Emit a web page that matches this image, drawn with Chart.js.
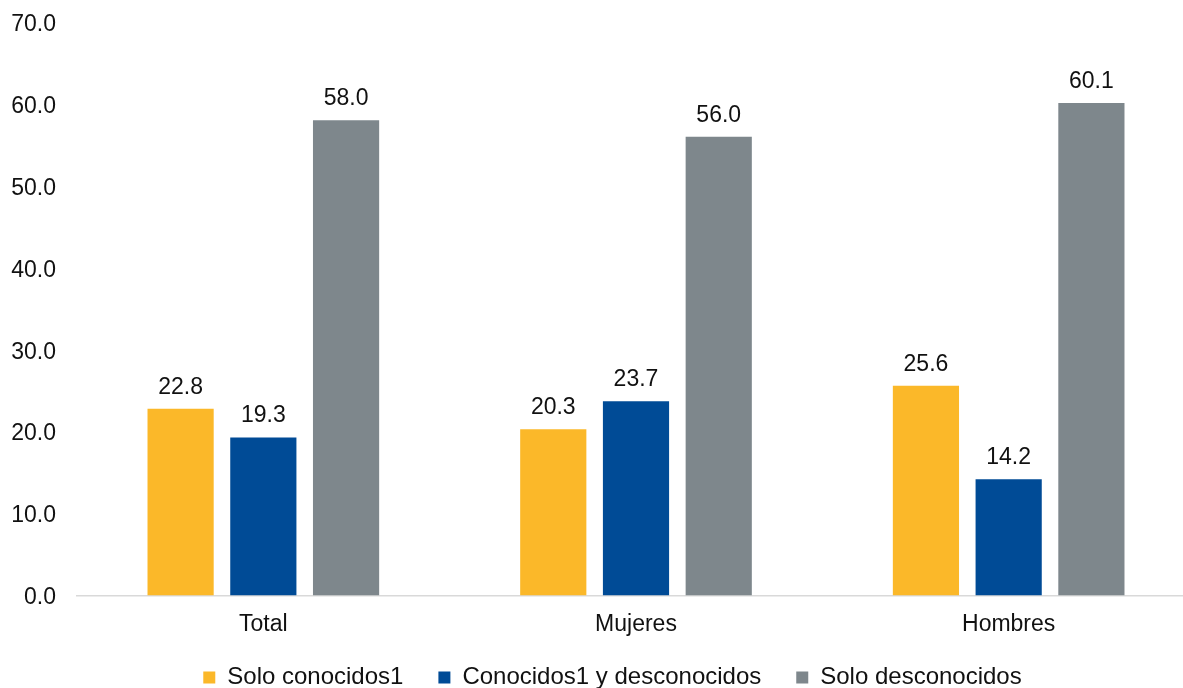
<!DOCTYPE html>
<html>
<head>
<meta charset="utf-8">
<script src="https://cdn.jsdelivr.net/npm/chart.js@4"></script>
<style>
  html, body { margin: 0; padding: 0; background: #fff; }
  #wrap { width: 1183px; height: 688px; position: relative; }
</style>
</head>
<body>
<div id="wrap"><canvas id="chart"></canvas></div>
<script>
// data
const categories = ["Total", "Mujeres", "Hombres"];
const seriesNames = ["Solo conocidos1", "Conocidos1 y desconocidos", "Solo desconocidos"];
const soloConocidos = [22.8, 20.3, 25.6];
const conocidosYDesconocidos = [19.3, 23.7, 14.2];
const soloDesconocidos = [58.0, 56.0, 60.1];
const yTicks = [0, 10, 20, 30, 40, 50, 60, 70];

const colors = ["#FBB829", "#004B96", "#7E878C"];
const FONT = "'Liberation Sans', Arial, sans-serif";

// value labels above each bar
const barLabels = {
  id: "barLabels",
  afterDatasetsDraw(chart) {
    const ctx = chart.ctx;
    ctx.save();
    ctx.font = "23px " + FONT;
    ctx.fillStyle = "#111";
    ctx.textAlign = "center";
    ctx.textBaseline = "alphabetic";
    chart.data.datasets.forEach((ds, i) => {
      chart.getDatasetMeta(i).data.forEach((bar, j) => {
        ctx.fillText(ds.data[j].toFixed(1), bar.x, bar.y - 15);
      });
    });
    ctx.restore();
  }
};

// the original plot runs a bit past the right edge of the picture,
// and its legend row sits lower than chart.js puts it
const layoutFix = {
  id: "layoutFix",
  afterLayout(chart) {
    const x = chart.scales.x;
    x.right = 1195;
    x.width = x.right - x.left;
    x.configure();

    const lg = chart.legend;
    if (!lg) return;
    const h = lg.height;
    lg.top = 630.5;
    lg.bottom = lg.top + h;
    lg.left = 30;
    lg.right = 1195;
  }
};

new Chart(document.getElementById("chart"), {
  type: "bar",
  data: {
    labels: categories,
    datasets: [
      { label: seriesNames[0], data: soloConocidos, backgroundColor: colors[0] },
      { label: seriesNames[1], data: conocidosYDesconocidos, backgroundColor: colors[1] },
      { label: seriesNames[2], data: soloDesconocidos, backgroundColor: colors[2] }
    ]
  },
  options: {
    responsive: true,
    maintainAspectRatio: false,
    animation: false,
    datasets: {
      bar: { categoryPercentage: 0.666, barPercentage: 0.8 }
    },
    layout: { padding: { left: 8, right: 0, top: 22, bottom: -21.5 } },
    scales: {
      x: {
        grid: { display: false, drawTicks: false },
        border: { display: true, color: "#D9D9D9", width: 1.5 },
        ticks: { color: "#111", font: { family: FONT, size: 23 }, padding: 15 },
        afterFit(scale) {
          scale.height = 45;
          scale.paddingLeft = 0;
          scale.paddingRight = 0;
        }
      },
      y: {
        min: 0,
        max: 70,
        afterBuildTicks(scale) { scale.ticks = yTicks.map(v => ({ value: v })); },
        grid: { display: false, drawTicks: false },
        border: { display: false },
        ticks: {
          color: "#111",
          font: { family: FONT, size: 23 },
          padding: 21,
          labelOffset: 2.5,
          callback: v => Number(v).toFixed(1)
        },
        afterFit(scale) {
          scale.width = 69;
          scale.paddingTop = 0;
          scale.paddingBottom = 0;
        }
      }
    },
    plugins: {
      tooltip: { enabled: false },
      legend: {
        position: "bottom",
        labels: {
          color: "#111",
          font: { family: FONT, size: 24 },
          boxWidth: 12,
          boxHeight: 12,
          padding: 35
        }
      }
    }
  },
  plugins: [barLabels, layoutFix]
});
</script>
</body>
</html>
